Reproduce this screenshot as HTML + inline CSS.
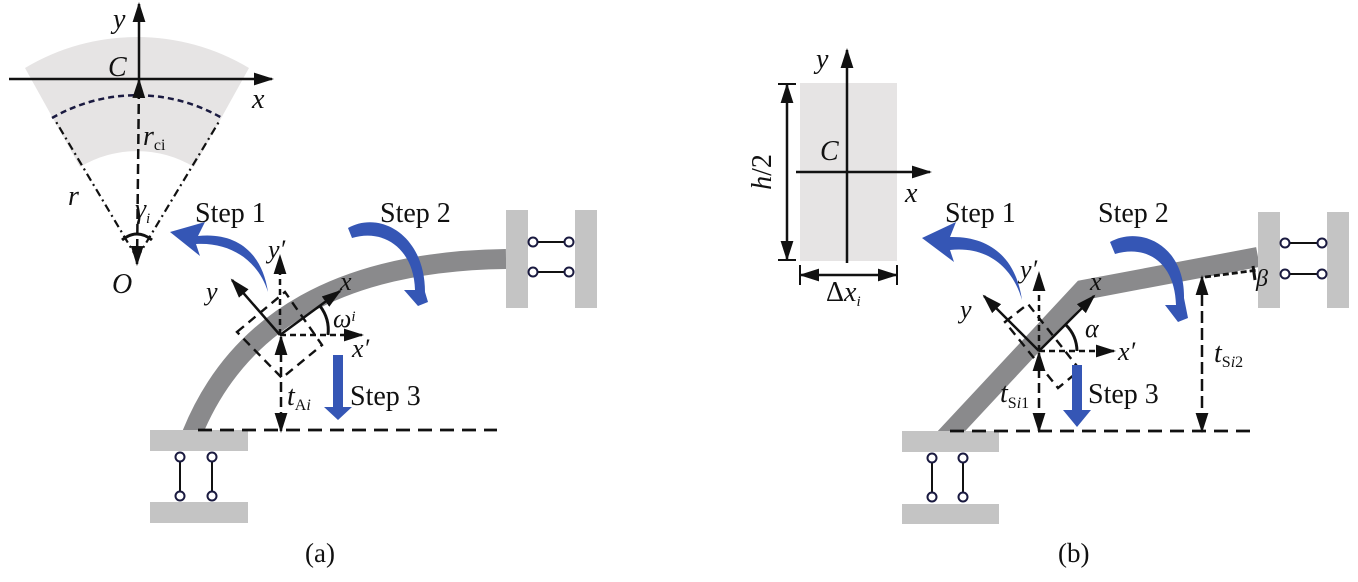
<!DOCTYPE html>
<html><head><meta charset="utf-8"><style>
html,body{margin:0;padding:0;background:#fff}
svg{display:block}
text{font-family:"Liberation Serif",serif;fill:#111}
.m{font-style:italic}
</style></head><body>
<svg width="1358" height="582" viewBox="0 0 1358 582" xmlns="http://www.w3.org/2000/svg">
<defs>
<marker id="a2" viewBox="0 0 10 10" refX="9" refY="5" markerWidth="20" markerHeight="20" orient="auto-start-reverse" markerUnits="userSpaceOnUse"><path d="M0,1.8 L10,5 L0,8.2 z" fill="#111"/></marker>
</defs>

<!-- ===== Panel (a) ===== -->
<path d="M25,68 A218,218 0 0 1 249,68 L194,167 A110,110 0 0 0 80,167 Z" fill="#e6e4e4"/>
<path d="M52,118 A170,170 0 0 1 222,118" fill="none" stroke="#1a1a40" stroke-width="2.5" stroke-dasharray="6,4"/>
<line x1="137" y1="258" x2="55" y2="120" stroke="#111" stroke-width="2.2" stroke-dasharray="8,4,2,4"/>
<line x1="137" y1="258" x2="220" y2="120" stroke="#111" stroke-width="2.2" stroke-dasharray="8,4,2,4"/>
<line x1="9" y1="79" x2="272" y2="79" stroke="#111" stroke-width="2.5" marker-end="url(#a2)"/>
<line x1="139" y1="80" x2="139" y2="4" stroke="#111" stroke-width="2.5" marker-end="url(#a2)"/>
<line x1="137" y1="264" x2="139" y2="80" stroke="#111" stroke-width="2.5" stroke-dasharray="10,5" marker-start="url(#a2)" marker-end="url(#a2)"/>
<path d="M122,240 Q137,228 152,240" fill="none" stroke="#111" stroke-width="3"/>
<text x="113" y="28" font-size="28" class="m">y</text>
<text x="108" y="76" font-size="28" class="m">C</text>
<text x="252" y="108" font-size="28" class="m">x</text>
<text x="143" y="145" font-size="28" class="m">r<tspan font-size="16" font-style="normal" dy="5">ci</tspan></text>
<text x="68" y="205" font-size="28" class="m">r</text>
<text x="135" y="218" font-size="28" class="m">γ<tspan font-size="15" dy="5">i</tspan></text>
<text x="112" y="293" font-size="28" class="m">O</text>

<path d="M192,434 Q262,262 506,259" fill="none" stroke="#8a8a8c" stroke-width="20"/>
<rect x="506" y="210" width="22" height="98" fill="#c4c4c4"/>
<rect x="575" y="210" width="22" height="98" fill="#c4c4c4"/>
<g stroke="#111" stroke-width="2" fill="#fff">
<line x1="533" y1="242" x2="569" y2="242"/><line x1="533" y1="272" x2="569" y2="272"/>
<circle cx="533" cy="242" r="4.5" stroke="#1a1a40"/><circle cx="569" cy="242" r="4.5" stroke="#1a1a40"/>
<circle cx="533" cy="272" r="4.5" stroke="#1a1a40"/><circle cx="569" cy="272" r="4.5" stroke="#1a1a40"/>
</g>
<rect x="150" y="430" width="98" height="21" fill="#c4c4c4"/>
<rect x="150" y="502" width="98" height="21" fill="#c4c4c4"/>
<g stroke="#111" stroke-width="2" fill="#fff">
<line x1="180" y1="457" x2="180" y2="496"/><line x1="212" y1="457" x2="212" y2="496"/>
<circle cx="180" cy="457" r="4.5" stroke="#1a1a40"/><circle cx="180" cy="496" r="4.5" stroke="#1a1a40"/>
<circle cx="212" cy="457" r="4.5" stroke="#1a1a40"/><circle cx="212" cy="496" r="4.5" stroke="#1a1a40"/>
</g>
<line x1="198" y1="430" x2="497" y2="430" stroke="#111" stroke-width="2.8" stroke-dasharray="14,8"/>
<polygon points="237,332 285,292 322,345 282,378" fill="none" stroke="#111" stroke-width="2.4" stroke-dasharray="9,6"/>
<line x1="280" y1="335" x2="280" y2="256" stroke="#111" stroke-width="2.5" stroke-dasharray="6,4" marker-end="url(#a2)"/>
<line x1="280" y1="335" x2="362" y2="335" stroke="#111" stroke-width="2.5" stroke-dasharray="6,4" marker-end="url(#a2)"/>
<line x1="280" y1="335" x2="340" y2="291" stroke="#111" stroke-width="2.5" marker-end="url(#a2)"/>
<line x1="280" y1="335" x2="232" y2="280" stroke="#111" stroke-width="2.5" marker-end="url(#a2)"/>
<path d="M320,306 A40,40 0 0 1 328,335" fill="none" stroke="#111" stroke-width="3"/>
<line x1="281" y1="337" x2="281" y2="431" stroke="#111" stroke-width="2.5" stroke-dasharray="10,5" marker-start="url(#a2)" marker-end="url(#a2)"/>
<text x="268" y="258" font-size="26" class="m">y′</text>
<text x="206" y="300" font-size="26" class="m">y</text>
<text x="340" y="290" font-size="26" class="m">x</text>
<text x="333" y="327" font-size="26" class="m">ω<tspan font-size="15" dy="-6">i</tspan></text>
<text x="352" y="357" font-size="26" class="m">x′</text>
<text x="287" y="405" font-size="28" class="m">t<tspan font-size="16" font-style="normal" dy="5">A</tspan><tspan font-size="16" class="m">i</tspan></text>
<path d="M333,355 h10 v52 h9 l-14,13 l-14,-13 h9 z" fill="#3556b5"/>
<path d="M268,292 C258,260 230,242 196,244 L200,256 L170,232 L205,222 L198,236 C236,232 262,252 268,292 z" fill="#3556b5"/>
<path d="M348,228 C380,210 425,235 425,292 L428,302 L418,306 L404,290 L415,290 C414,250 385,228 352,238 z" fill="#3556b5"/>
<text x="195" y="222" font-size="28">Step 1</text>
<text x="380" y="222" font-size="28">Step 2</text>
<text x="350" y="405" font-size="28">Step 3</text>
<text x="305" y="562" font-size="27">(a)</text>

<!-- ===== Panel (b) ===== -->
<rect x="800" y="83" width="97" height="178" fill="#e6e4e4"/>
<line x1="847" y1="263" x2="847" y2="50" stroke="#111" stroke-width="2.5" marker-end="url(#a2)"/>
<line x1="796" y1="172" x2="930" y2="172" stroke="#111" stroke-width="2.5" marker-end="url(#a2)"/>
<line x1="787" y1="85" x2="787" y2="259" stroke="#111" stroke-width="2.5" marker-start="url(#a2)" marker-end="url(#a2)"/>
<line x1="778" y1="84" x2="796" y2="84" stroke="#111" stroke-width="2"/>
<line x1="778" y1="260" x2="796" y2="260" stroke="#111" stroke-width="2"/>
<line x1="801" y1="275" x2="896" y2="275" stroke="#111" stroke-width="2.5" marker-start="url(#a2)" marker-end="url(#a2)"/>
<line x1="800" y1="265" x2="800" y2="285" stroke="#111" stroke-width="2"/>
<line x1="897" y1="265" x2="897" y2="285" stroke="#111" stroke-width="2"/>
<text x="816" y="68" font-size="28" class="m">y</text>
<text x="820" y="160" font-size="28" class="m">C</text>
<text x="905" y="202" font-size="28" class="m">x</text>
<text transform="translate(771,172) rotate(-90)" font-size="28" text-anchor="middle"><tspan class="m">h</tspan>/2</text>
<text x="826" y="301" font-size="28">Δ<tspan class="m">x</tspan><tspan font-size="15" class="m" dy="5">i</tspan></text>

<polyline points="945,438 1083,290 1258,257" fill="none" stroke="#8a8a8c" stroke-width="20" stroke-linejoin="miter"/>
<rect x="1258" y="212" width="22" height="96" fill="#c4c4c4"/>
<rect x="1327" y="212" width="22" height="96" fill="#c4c4c4"/>
<g stroke="#111" stroke-width="2" fill="#fff">
<line x1="1285" y1="243" x2="1322" y2="243"/><line x1="1285" y1="274" x2="1322" y2="274"/>
<circle cx="1285" cy="243" r="4.5" stroke="#1a1a40"/><circle cx="1322" cy="243" r="4.5" stroke="#1a1a40"/>
<circle cx="1285" cy="274" r="4.5" stroke="#1a1a40"/><circle cx="1322" cy="274" r="4.5" stroke="#1a1a40"/>
</g>
<rect x="902" y="431" width="97" height="21" fill="#c4c4c4"/>
<rect x="902" y="504" width="97" height="20" fill="#c4c4c4"/>
<g stroke="#111" stroke-width="2" fill="#fff">
<line x1="932" y1="458" x2="932" y2="497"/><line x1="963" y1="458" x2="963" y2="497"/>
<circle cx="932" cy="458" r="4.5" stroke="#1a1a40"/><circle cx="932" cy="497" r="4.5" stroke="#1a1a40"/>
<circle cx="963" cy="458" r="4.5" stroke="#1a1a40"/><circle cx="963" cy="497" r="4.5" stroke="#1a1a40"/>
</g>
<line x1="950" y1="431" x2="1258" y2="431" stroke="#111" stroke-width="2.8" stroke-dasharray="14,8"/>
<line x1="1205" y1="277" x2="1258" y2="270" stroke="#111" stroke-width="2.8" stroke-dasharray="6,3"/>
<path d="M1253,266 L1255,280" stroke="#111" stroke-width="3"/>
<line x1="1202" y1="277" x2="1202" y2="431" stroke="#111" stroke-width="2.5" stroke-dasharray="12,5" marker-start="url(#a2)" marker-end="url(#a2)"/>
<text x="1256" y="286" font-size="24" class="m">β</text>
<text x="1214" y="362" font-size="28" class="m">t<tspan font-size="16" font-style="normal" dy="5">S</tspan><tspan font-size="16" class="m">i</tspan><tspan font-size="16" font-style="normal">2</tspan></text>
<polygon points="1005,322 1028,304 1080,370 1058,388" fill="none" stroke="#111" stroke-width="2.4" stroke-dasharray="9,6"/>
<line x1="1039" y1="351" x2="1039" y2="273" stroke="#111" stroke-width="2.5" stroke-dasharray="6,4" marker-end="url(#a2)"/>
<line x1="1039" y1="351" x2="1114" y2="351" stroke="#111" stroke-width="2.5" stroke-dasharray="6,4" marker-end="url(#a2)"/>
<line x1="1039" y1="351" x2="1094" y2="296" stroke="#111" stroke-width="2.5" marker-end="url(#a2)"/>
<line x1="1039" y1="351" x2="984" y2="296" stroke="#111" stroke-width="2.5" marker-end="url(#a2)"/>
<path d="M1066,325 A38,38 0 0 1 1077,351" fill="none" stroke="#111" stroke-width="3"/>
<line x1="1039" y1="353" x2="1039" y2="431" stroke="#111" stroke-width="2.5" stroke-dasharray="10,5" marker-start="url(#a2)" marker-end="url(#a2)"/>
<text x="1020" y="278" font-size="26" class="m">y′</text>
<text x="960" y="318" font-size="26" class="m">y</text>
<text x="1090" y="290" font-size="26" class="m">x</text>
<text x="1085" y="337" font-size="26" class="m">α</text>
<text x="1118" y="360" font-size="26" class="m">x′</text>
<text x="1000" y="402" font-size="28" class="m">t<tspan font-size="16" font-style="normal" dy="6">S</tspan><tspan font-size="16" class="m">i</tspan><tspan font-size="16" font-style="normal">1</tspan></text>
<path d="M1072,365 h10 v45 h9 l-14,17 l-14,-17 h9 z" fill="#3556b5"/>
<path d="M1022,300 C1012,265 985,246 950,250 L954,262 L922,238 L956,222 L950,237 C990,236 1016,258 1022,300 z" fill="#3556b5"/>
<path d="M1110,242 C1140,225 1185,245 1184,298 L1188,318 L1178,322 L1165,305 L1176,305 C1175,264 1148,244 1115,254 z" fill="#3556b5"/>
<text x="945" y="222" font-size="28">Step 1</text>
<text x="1098" y="222" font-size="28">Step 2</text>
<text x="1088" y="403" font-size="28">Step 3</text>
<text x="1058" y="562" font-size="27">(b)</text>
</svg>
</body></html>
